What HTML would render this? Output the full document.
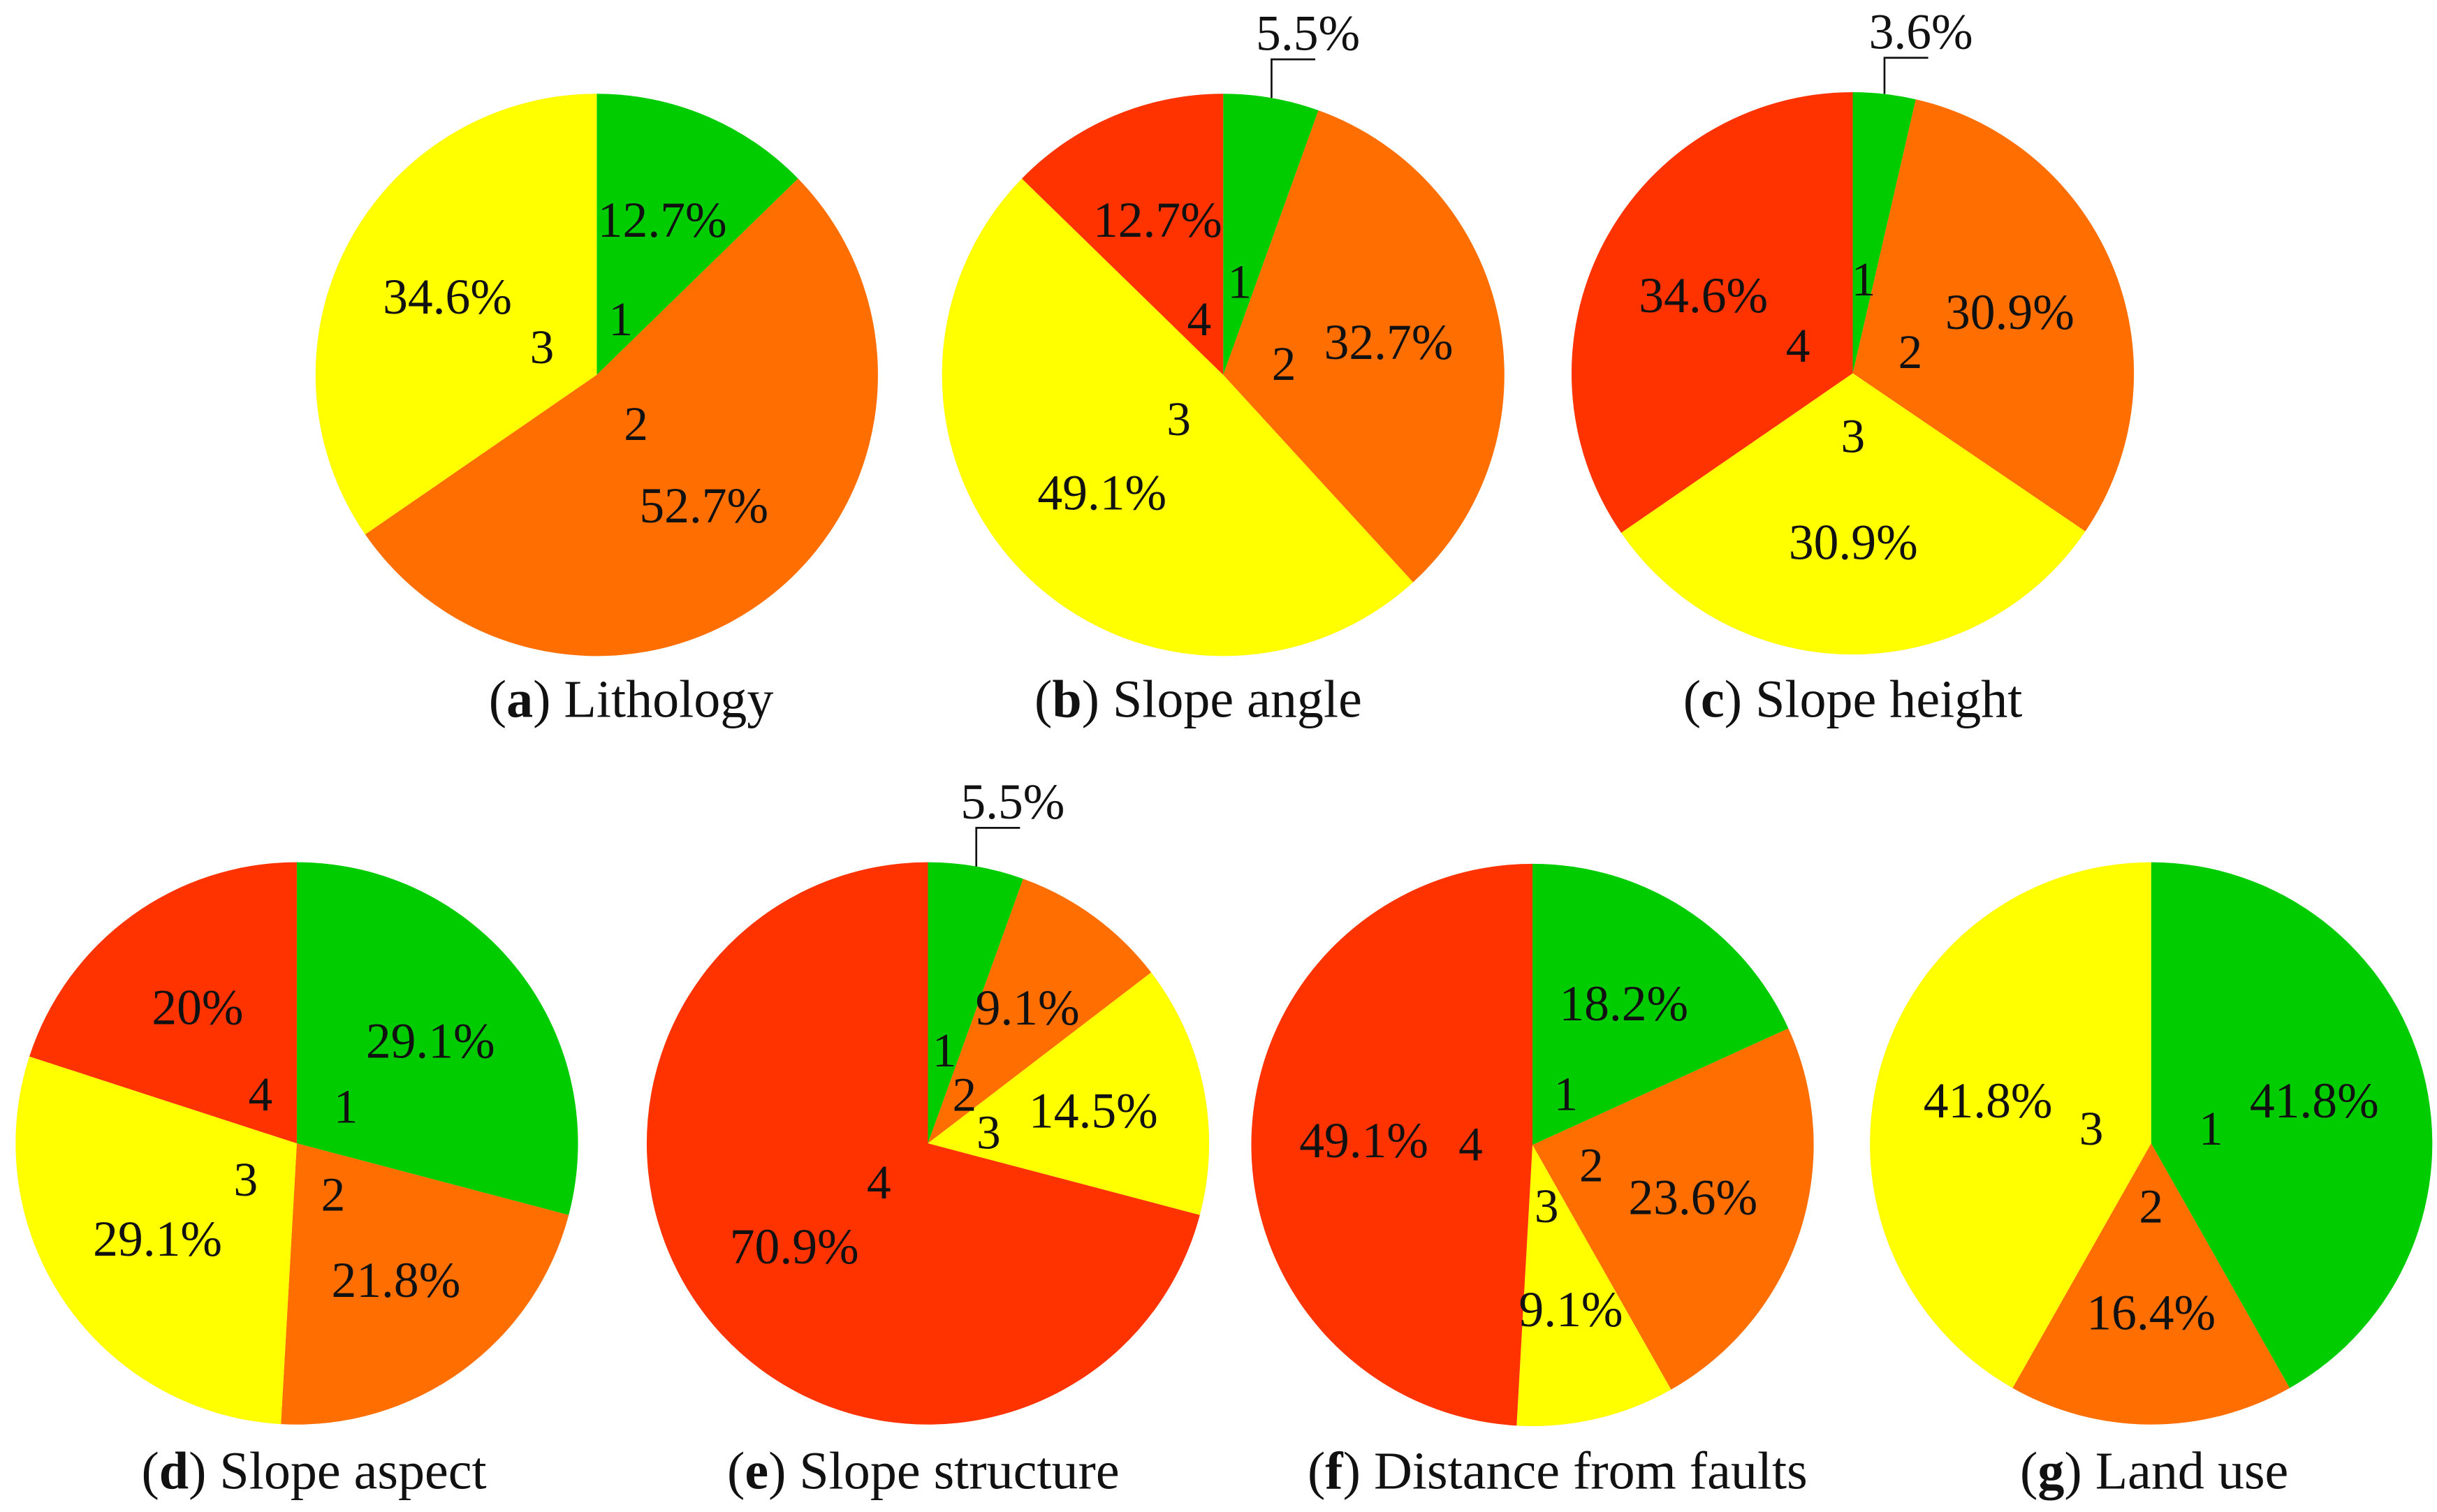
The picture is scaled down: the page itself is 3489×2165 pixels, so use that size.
<!DOCTYPE html>
<html><head><meta charset="utf-8"><style>
html,body{margin:0;padding:0;background:#fff;}
svg{display:block;}
text{font-family:"Liberation Serif",serif;fill:#111;}
</style></head><body>
<svg id="chart" width="3489" height="2165" viewBox="0 0 1560 968" xmlns="http://www.w3.org/2000/svg"></svg>
<script>
const pieA = [12.7, 52.7, 34.6];
const pieB = [5.5, 32.7, 49.1, 12.7];
const pieC = [3.6, 30.9, 30.9, 34.6];
const pieD = [29.1, 21.8, 29.1, 20];
const pieE = [5.5, 9.1, 14.5, 70.9];
const pieF = [18.2, 23.6, 9.1, 49.1];
const pieG = [41.8, 16.4, 41.8];
const classLabels = ["1", "2", "3", "4"];
const captionLetters = ["a", "b", "c", "d", "e", "f", "g"];
const captionTexts = ["Lithology", "Slope angle", "Slope height", "Slope aspect", "Slope structure", "Distance from faults", "Land use"];

const colors = ["#00cc00", "#ff6e00", "#ffff00", "#ff3300"];
const layout = [
  {cx:382, cy:240, cap:[404,459]},
  {cx:783, cy:240, cap:[767,459]},
  {cx:1186, cy:239, cap:[1186,459]},
  {cx:190, cy:732, cap:[201,953]},
  {cx:594, cy:732, cap:[591,953]},
  {cx:981, cy:733, cap:[997,953]},
  {cx:1377, cy:732, cap:[1379,953]}
];
const R = 180;
const FONT = '"Liberation Serif", serif';
const svg = document.getElementById('chart');
const NS = "http://www.w3.org/2000/svg";
function mk(tag, attrs){const e=document.createElementNS(NS,tag);for(const k in attrs)e.setAttribute(k,attrs[k]);return e;}
function pt(cx,cy,r,a){return [cx+r*Math.sin(a), cy-r*Math.cos(a)];}

const pies = [pieA,pieB,pieC,pieD,pieE,pieF,pieG];
pies.forEach((vals, pi) => {
  const L = layout[pi];
  const g = mk('g',{});
  
  
  svg.appendChild(g);
  const total = vals.reduce((s,v)=>s+v,0);
  let a0 = 0;
  vals.forEach((v, i) => {
    const a1 = a0 + v/total*2*Math.PI;
    const p0 = pt(L.cx,L.cy,R,a0), p1 = pt(L.cx,L.cy,R,a1);
    const large = (a1-a0) > Math.PI ? 1 : 0;
    const path = mk('path',{d:`M${L.cx},${L.cy} L${p0[0]},${p0[1]} A${R},${R} 0 ${large} 1 ${p1[0]},${p1[1]} Z`, fill:colors[i]});
    
    
    g.appendChild(path);
    a0 = a1;
  });
  a0 = 0;
  vals.forEach((v, i) => {
    const a1 = a0 + v/total*2*Math.PI;
    const mid = (a0+a1)/2;
    const frac = v/total;
    const nr = frac < 0.08 ? 0.34 : 0.22;
    const np = pt(L.cx,L.cy,R*nr,mid);
    const nt = mk('text',{x:np[0], y:np[1]+11, 'font-size':31, 'text-anchor':'middle', 'font-family':FONT});
    nt.textContent = classLabels[i];
    
    
    g.appendChild(nt);
    const label = v + '%';
    if (frac < 0.08) {
      const e = pt(L.cx,L.cy,R,mid);
      const ln = mk('polyline',{points:`${e[0]},${e[1]} ${e[0]},${L.cy-R-22} ${e[0]+28},${L.cy-R-22}`, fill:'none', stroke:'#111', 'stroke-width':1.2});
      
      
      g.appendChild(ln);
      const t = mk('text',{x:e[0]-10, y:L.cy-R-28, 'font-size':32, 'font-family':FONT});
      t.textContent = label;
      
      
      g.appendChild(t);
    } else {
      const lp = pt(L.cx,L.cy,R*0.6,mid);
      const t = mk('text',{x:lp[0], y:lp[1]+11, 'font-size':32, 'text-anchor':'middle', 'font-family':FONT});
      t.textContent = label;
      
      
      g.appendChild(t);
    }
    a0 = a1;
  });
  const cap = mk('text',{x:L.cap[0], y:L.cap[1], 'font-size':34, 'text-anchor':'middle', 'font-family':FONT});
  cap.innerHTML = '(<tspan font-weight="bold">' + captionLetters[pi] + '</tspan>) ' + captionTexts[pi];
  
  
  svg.appendChild(cap);
});
</script>
</body></html>
